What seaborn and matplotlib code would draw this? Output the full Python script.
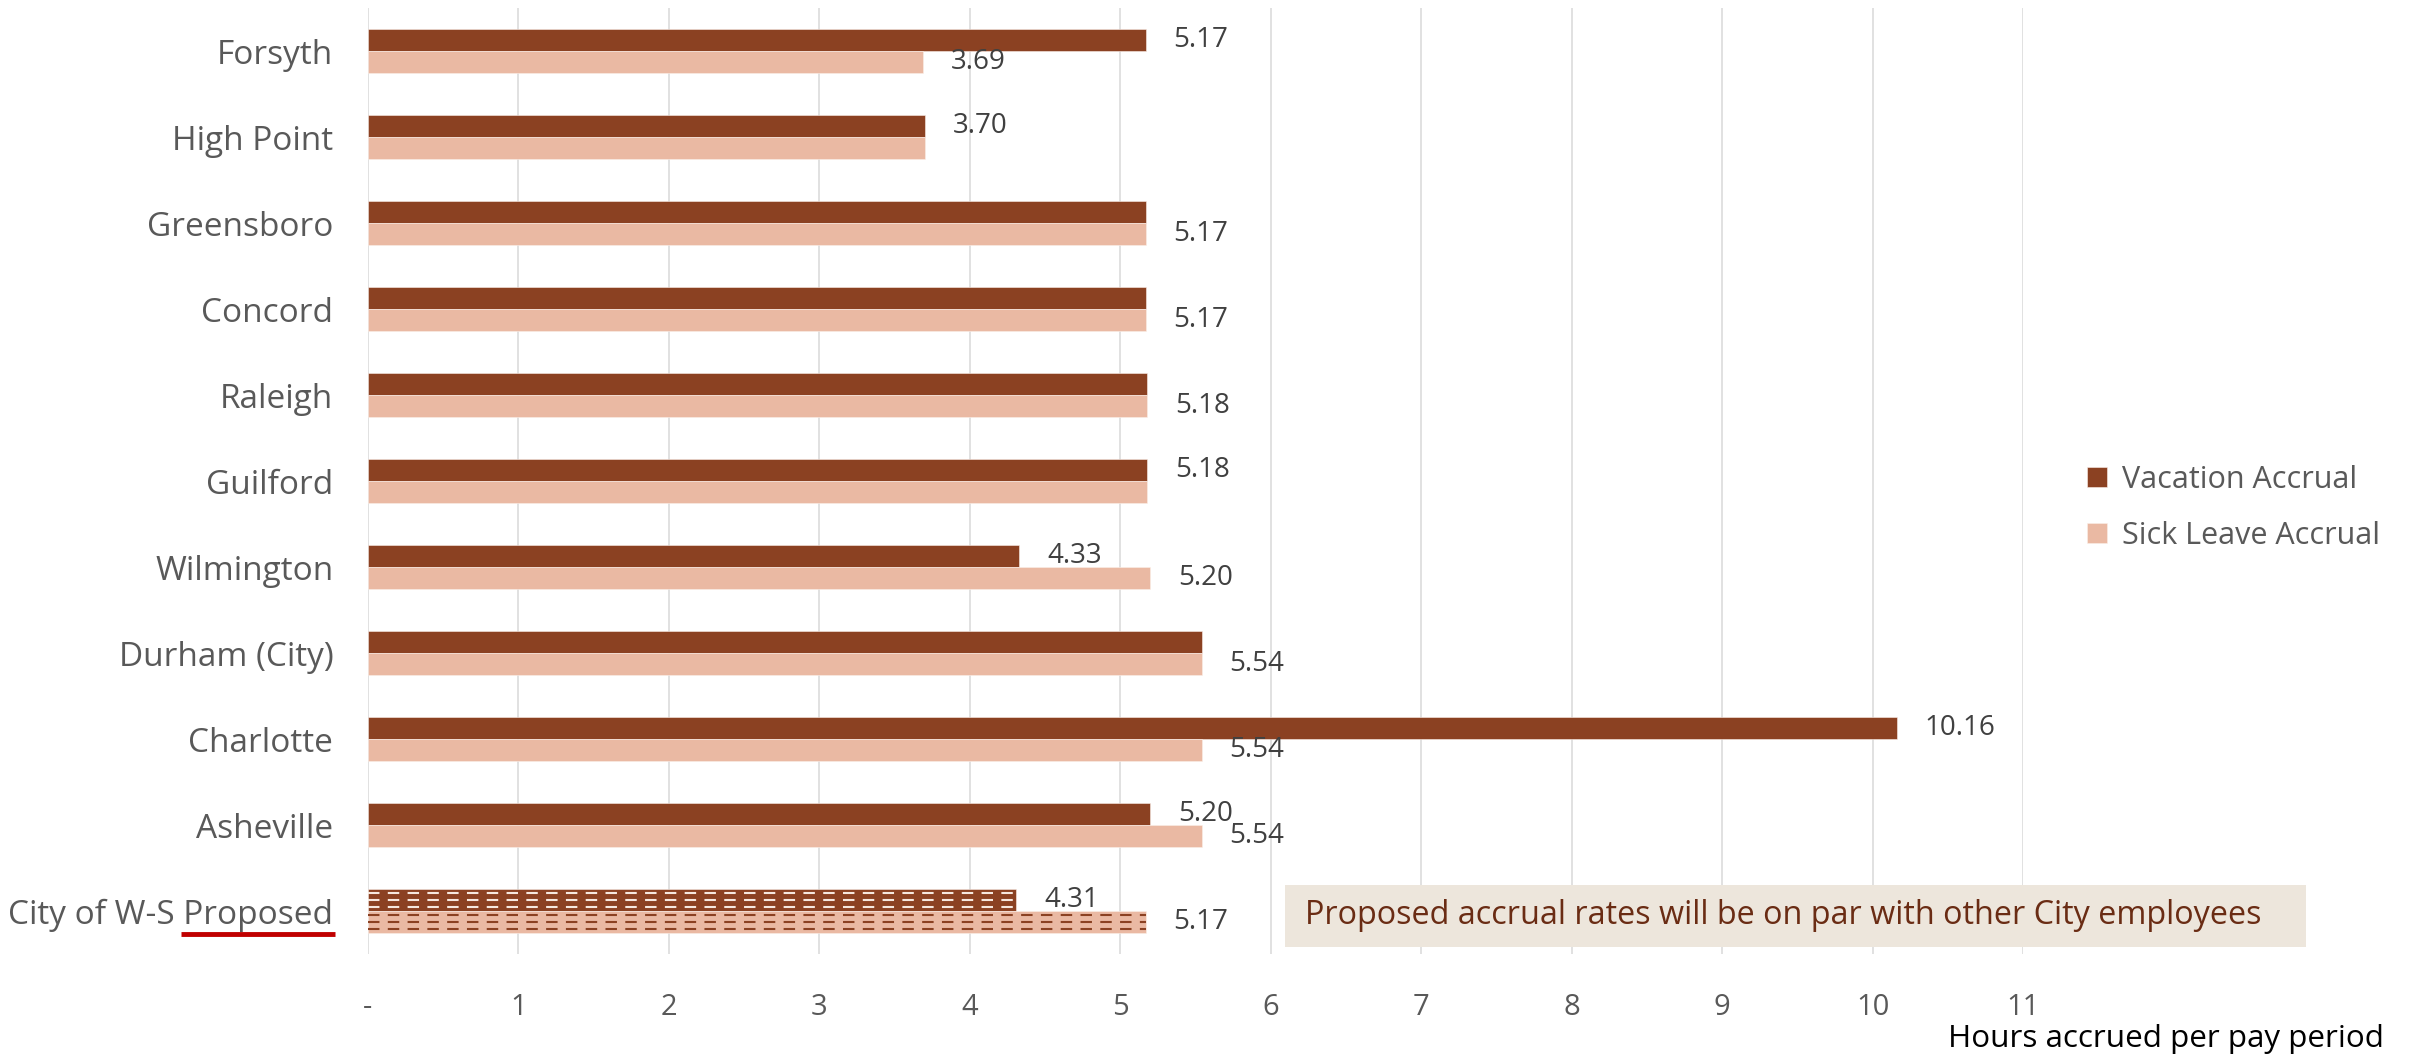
import numpy as np
import pandas as pd
import matplotlib
matplotlib.use("Agg")
import matplotlib.pyplot as plt
import seaborn as sns
from matplotlib.patches import Rectangle
from matplotlib.lines import Line2D

# ---------------- data ----------------
categories = ["Forsyth", "High Point", "Greensboro", "Concord", "Raleigh", "Guilford",
              "Wilmington", "Durham (City)", "Charlotte", "Asheville", "City of W-S Proposed"]
vacation = [5.17, 3.70, 5.17, 5.17, 5.18, 5.18, 4.33, 5.54, 10.16, 5.20, 4.31]
sick = [3.69, 3.70, 5.17, 5.17, 5.18, 5.18, 5.20, 5.54, 5.54, 5.54, 5.17]
series_names = ["Vacation Accrual", "Sick Leave Accrual"]
x_ticks = list(range(0, 12))
x_tick_labels = ["-"] + [str(i) for i in range(1, 12)]
vacation_label_shown = [True, True, False, False, False, True, True, False, True, True, True]
sick_label_shown = [True, False, True, True, True, False, True, True, True, True, True]
proposed_category = "City of W-S Proposed"
note_text = "Proposed accrual rates will be on par with other City employees"
x_title = "Hours accrued per pay period"

# ---------------- style ----------------
sns.set_style("white")
plt.rcParams["font.family"] = ["Open Sans", "DejaVu Sans"]

VAC = "#8B4122"
SICK = "#EAB9A3"
GRID = "#D9D9D9"
TXT = "#595959"
VAL = "#404040"

W, H = 2427, 1061
fig = plt.figure(figsize=(W / 100, H / 100), dpi=100)
ax = fig.add_axes([368 / W, 1 - 954 / H, (2023 - 368) / W, (954 - 8) / H])

df = pd.DataFrame({
    "Jurisdiction": categories * 2,
    "Series": [series_names[0]] * len(categories) + [series_names[1]] * len(categories),
    "Hours": vacation + sick,
})

sns.barplot(data=df, y="Jurisdiction", x="Hours", hue="Series", orient="h",
            order=categories, hue_order=series_names, palette=[VAC, SICK],
            saturation=1, width=0.51, errorbar=None, ax=ax,
            edgecolor="#FBEFE9", linewidth=0.4)

# data labels
vac_labels = [f"{v:.2f}" if s else "" for v, s in zip(vacation, vacation_label_shown)]
sick_labels = [f"{v:.2f}" if s else "" for v, s in zip(sick, sick_label_shown)]
ax.bar_label(ax.containers[0], labels=vac_labels, padding=20, fontsize=20, color=VAL)
ax.bar_label(ax.containers[1], labels=sick_labels, padding=20, fontsize=20, color=VAL)

# dashed pattern on proposed bars
pi = categories.index(proposed_category)
for k, dcol in ((0, "#F6E8DF"), (1, VAC)):
    p = ax.containers[k][pi]
    x0, w = p.get_x(), p.get_width()
    y0, h = p.get_y(), p.get_height()
    for frac in (1 / 6, 1 / 2, 5 / 6):
        ax.plot([x0, x0 + w], [y0 + frac * h] * 2, color=dcol, lw=1.5,
                dashes=(5.5, 4), solid_capstyle="butt", zorder=3)

ax.set_xlim(0, 11)
ax.set_ylim(len(categories) - 0.5, -0.5)
ax.set_xticks(x_ticks)
ax.set_xticklabels(x_tick_labels)
ax.grid(axis="x", color=GRID, lw=1.1)
ax.grid(axis="y", visible=False)
ax.set_axisbelow(True)
for s in ax.spines.values():
    s.set_visible(False)
ax.set_xlabel("")
ax.set_ylabel("")
ax.tick_params(axis="x", length=0, pad=28, labelsize=21, labelcolor=TXT)
ax.tick_params(axis="y", length=0, pad=25, labelsize=24, labelcolor=TXT)

# legend
sns.move_legend(ax, loc="center left", bbox_to_anchor=(2087 / W, 1 - 508 / H),
                bbox_transform=fig.transFigure, title=None, frameon=False,
                fontsize=22, handlelength=0.65, handleheight=0.65,
                handletextpad=0.5, labelspacing=0.85, borderpad=0, borderaxespad=0)
for t in ax.get_legend().get_texts():
    t.set_color(TXT)

# note box
fig.add_artist(Rectangle((1285 / W, 1 - 947 / H), 1021 / W, 62 / H,
                         transform=fig.transFigure, facecolor="#EDE6DC",
                         edgecolor="none", zorder=5))
fig.text(1305 / W, 1 - 916 / H, note_text, fontsize=23.3, color="#6A2C14",
         ha="left", va="center", zorder=6)

# x title
fig.text(2384 / W, 1 - 1039 / H, x_title, fontsize=22.6, color="black",
         ha="right", va="center")

# red underline under "Proposed"
fig.canvas.draw()
renderer = fig.canvas.get_renderer()
lbl = ax.get_yticklabels()[pi]
bb = lbl.get_window_extent(renderer)
tmp = fig.text(0, 0, "Proposed", fontsize=24)
wp = tmp.get_window_extent(renderer).width
tmp.remove()
yline = (bb.y0 - 2) / fig.bbox.height
fig.add_artist(Line2D([(bb.x1 - wp - 3) / fig.bbox.width, (bb.x1 + 2) / fig.bbox.width],
                      [yline, yline], transform=fig.transFigure,
                      color="#C00000", lw=3.5, solid_capstyle="butt"))

fig.savefig("out.png", dpi=100)
